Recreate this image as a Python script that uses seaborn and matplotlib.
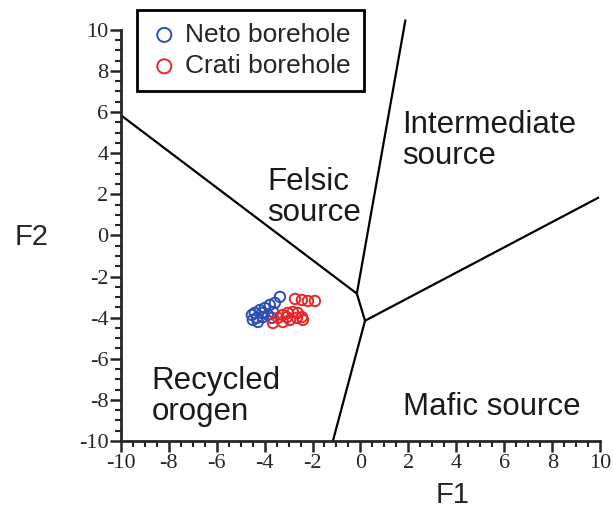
import numpy as np
import pandas as pd
import matplotlib
matplotlib.use("Agg")
import matplotlib.pyplot as plt
from matplotlib.ticker import MultipleLocator
import seaborn as sns

# Discriminant function scores
neto_f1 = [-3.36, -3.57, -3.78, -3.99, -4.20, -4.41, -4.53, -4.32, -4.07, -3.86,
           -3.65, -4.28, -4.49, -3.70, -4.11]
neto_f2 = [-2.99, -3.28, -3.38, -3.53, -3.63, -3.77, -3.87, -4.01, -3.97, -3.87,
           -3.72, -4.21, -4.11, -4.01, -3.77]
crati_f1 = [-2.73, -2.44, -2.19, -1.90, -3.44, -3.24, -3.03, -2.82, -2.61, -2.44,
            -2.40, -2.94, -3.24, -3.65, -2.65, -3.07]
crati_f2 = [-3.09, -3.14, -3.19, -3.19, -4.01, -3.87, -3.77, -3.72, -3.77, -3.97,
            -4.11, -4.11, -4.21, -4.26, -4.01, -3.97]

# field boundaries (x pairs, y pairs)
boundary_x = [[-10.0, -0.15], [-0.15, 1.88], [-0.15, 0.19], [0.19, 9.95], [0.19, -1.15]]
boundary_y = [[5.85, -2.83], [-2.83, 10.5], [-2.83, -4.15], [-4.15, 1.85], [-4.15, -10.0]]

fields = ["Intermediate\nsource", "Felsic\nsource", "Recycled\norogen", "Mafic source"]
field_x = [1.73, -3.90, -8.71, 1.77]
field_y = [6.12, 3.33, -6.35, -7.62]

groups = ["Neto borehole", "Crati borehole"]
colors = ["#2a4fb5", "#e8262a"]

df = pd.DataFrame({
    "F1": neto_f1 + crati_f1,
    "F2": neto_f2 + crati_f2,
    "group": [groups[0]] * len(neto_f1) + [groups[1]] * len(crati_f1),
})

sns.set_style("ticks")
plt.rcParams["axes.unicode_minus"] = False

fig = plt.figure(figsize=(6.13, 5.32), dpi=100)
ax = fig.add_axes([0.197, 0.171, 0.782, 0.773])

for xs, ys in zip(boundary_x, boundary_y):
    ax.plot(xs, ys, color="black", lw=1.6, clip_on=False, solid_capstyle="butt")

for g, c in zip(groups, colors):
    sub = df[df["group"] == g]
    sns.scatterplot(data=sub, x="F1", y="F2", ax=ax, s=56, facecolor="none",
                    edgecolor=c, linewidth=1.4, label=g, clip_on=False)

for name, tx, ty in zip(fields, field_x, field_y):
    ax.text(tx, ty, name, fontsize=22.5, family="Liberation Sans", ha="left", va="top",
            linespacing=1.05, color="#1a1a1a")

ax.set_xlim(-10, 10)
ax.set_ylim(-10, 10)
ax.xaxis.set_major_locator(MultipleLocator(2))
ax.yaxis.set_major_locator(MultipleLocator(2))
ax.xaxis.set_minor_locator(MultipleLocator(0.5))
ax.yaxis.set_minor_locator(MultipleLocator(0.5))
ax.tick_params(which="major", direction="out", length=8, width=1.8, labelsize=16, pad=1)
ax.tick_params(which="minor", direction="out", length=4, width=1.5)
for lab in ax.get_xticklabels() + ax.get_yticklabels():
    lab.set_family("Liberation Serif")
for sp in ["left", "bottom"]:
    ax.spines[sp].set_linewidth(2)
sns.despine(ax=ax)

ax.set_xlabel("F1", fontsize=21, family="Liberation Sans")
ax.set_ylabel("F2", fontsize=21, family="Liberation Sans", rotation=0)
ax.xaxis.set_label_coords(0.693, -0.131)
ax.yaxis.set_label_coords(-0.186, 0.495)
ax.xaxis.label.set_va("center")
ax.yaxis.label.set_va("center")

leg = ax.legend(loc="upper left", bbox_to_anchor=(0.033, 1.049), borderaxespad=0,
                fancybox=False, edgecolor="black", framealpha=1, markerscale=1.35,
                prop={"family": "Liberation Sans", "size": 19}, handletextpad=0.25,
                handlelength=1.1, borderpad=0.5, labelspacing=0.28)
leg.get_frame().set_linewidth(2)

fig.savefig("out.png", dpi=100)
